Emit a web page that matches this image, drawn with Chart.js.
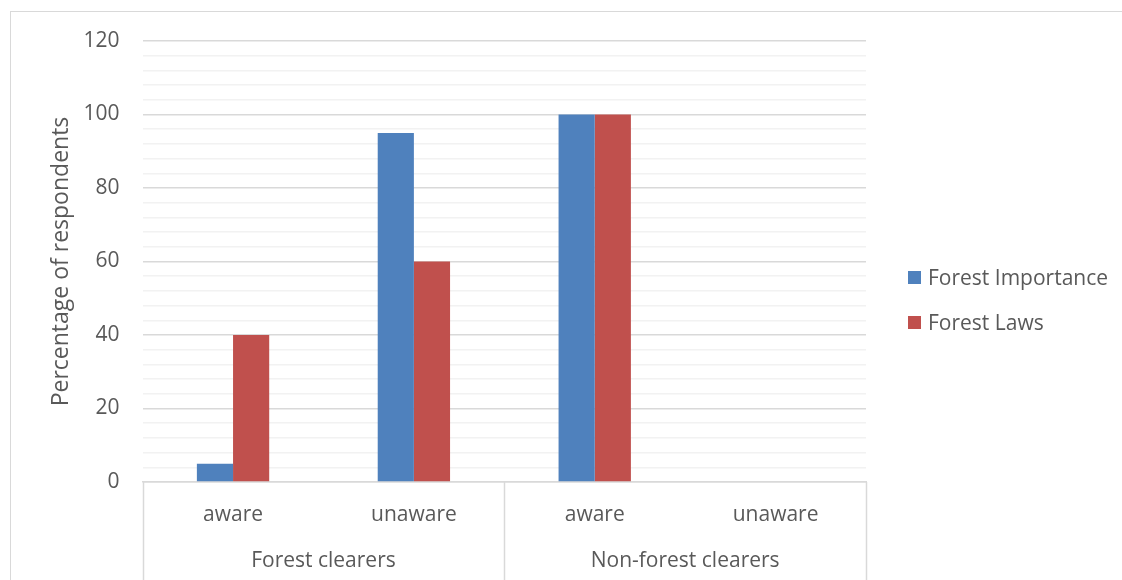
<!DOCTYPE html>
<html>
<head>
<meta charset="utf-8">
<script src="https://cdn.jsdelivr.net/npm/chart.js@4/dist/chart.umd.min.js"></script>
<style>
  html, body { margin: 0; padding: 0; background: #fff; }
  #wrap { position: relative; width: 1122px; height: 580px; overflow: hidden; font-family: "Open Sans", sans-serif; }
  #frame { position: absolute; left: 10px; top: 11px; width: 1200px; height: 700px; border: 1px solid #d9d9d9; }
  #chart { position: absolute; left: 0; top: 0; }
  #legend { position: absolute; left: 908px; top: 264px; }
  .item { position: relative; height: 26px; margin-bottom: 19px; color: #595959; font-size: 21px; line-height: 26px; white-space: nowrap; }
  .swatch { position: absolute; left: 0; top: 6.5px; width: 13px; height: 13px; }
  .item span.txt { position: absolute; left: 20px; top: 0; }
</style>
</head>
<body>
<div id="wrap">
  <div id="frame"></div>
  <canvas id="chart" width="1122" height="580"></canvas>
  <div id="legend"></div>
</div>
<script>
// awareness categories, grouped by respondent type
const categories = ['aware', 'unaware', 'aware', 'unaware'];
const groups = ['Forest clearers', 'Non-forest clearers'];
const forestImportance = [5, 95, 100, 0];
const forestLaws = [40, 60, 100, 0];

const textColor = '#595959';
const fontFamily = '"Open Sans", sans-serif';
const tickFont = { family: fontFamily, size: 21 };

// separator lines for the two-level category axis
const groupLines = {
    id: 'groupLines',
    afterDraw(chart) {
        const x = chart.scales.x;
        const ctx = chart.ctx;
        const top = chart.chartArea.bottom;
        const bottom = chart.height;
        const per = categories.length / groups.length;
        ctx.save();
        ctx.strokeStyle = '#d9d9d9';
        ctx.lineWidth = 1.5;
        for (let g = 0; g <= groups.length; g++) {
            const px = Math.round(x.getPixelForValue(g * per - 0.5)) + 0.5;
            ctx.beginPath();
            ctx.moveTo(px, top);
            ctx.lineTo(px, bottom);
            ctx.stroke();
        }
        ctx.restore();
    }
};

const chart = new Chart(document.getElementById('chart'), {
    type: 'bar',
    data: {
        labels: categories,
        datasets: [
            {
                label: 'Forest Importance',
                data: forestImportance,
                backgroundColor: '#4f81bd',
                categoryPercentage: 0.4,
                barPercentage: 1.0
            },
            {
                label: 'Forest Laws',
                data: forestLaws,
                backgroundColor: '#c0504d',
                categoryPercentage: 0.4,
                barPercentage: 1.0
            }
        ]
    },
    options: {
        responsive: false,
        animation: false,
        layout: { padding: { top: 41, left: 48, right: 256, bottom: 6.6 } },
        plugins: {
            legend: { display: false },
            tooltip: { enabled: false }
        },
        scales: {
            x: {
                offset: true,
                grid: { display: false, drawTicks: false },
                border: { display: true, color: '#d9d9d9', width: 1.5 },
                ticks: { padding: 20.5, color: textColor, font: tickFont }
            },
            x2: {
                type: 'category',
                position: 'bottom',
                labels: groups,
                offset: true,
                grid: { display: false, drawTicks: false },
                border: { display: false },
                ticks: { padding: 0, color: textColor, font: tickFont }
            },
            y: {
                min: 0,
                max: 120,
                grid: {
                    drawTicks: false,
                    color: (c) => (c.tick.value % 20 === 0 ? '#d9d9d9' : '#f2f2f2'),
                    lineWidth: 1.5
                },
                border: { display: false },
                ticks: {
                    stepSize: 4,
                    autoSkip: false,
                    padding: 23,
                    color: textColor,
                    font: tickFont,
                    callback: (v) => (v % 20 === 0 ? v : '')
                },
                title: {
                    display: true,
                    text: 'Percentage of respondents',
                    color: textColor,
                    // the tick padding is counted twice, so pull the title in
                    padding: { top: 0, bottom: -15 },
                    font: { family: fontFamily, size: 23 }
                }
            }
        }
    },
    plugins: [groupLines]
});

// legend built from the chart's datasets
const legendEl = document.getElementById('legend');
chart.data.datasets.forEach((ds) => {
    const item = document.createElement('div');
    item.className = 'item';
    const sw = document.createElement('div');
    sw.className = 'swatch';
    sw.style.background = ds.backgroundColor;
    const txt = document.createElement('span');
    txt.className = 'txt';
    txt.textContent = ds.label;
    item.appendChild(sw);
    item.appendChild(txt);
    legendEl.appendChild(item);
});
</script>
</body>
</html>
